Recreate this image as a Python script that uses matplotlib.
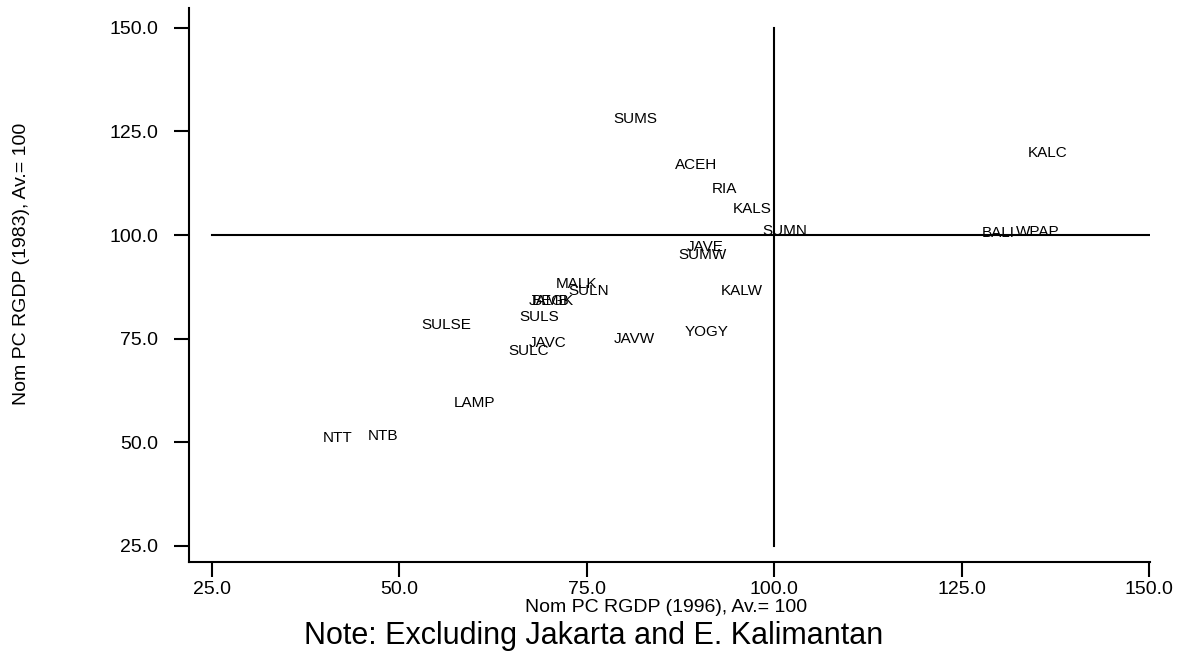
import matplotlib
matplotlib.use("Agg")
import matplotlib.pyplot as plt
from matplotlib.ticker import FormatStrFormatter

plt.rcParams["font.family"] = ["Liberation Sans", "DejaVu Sans"]

# relative nominal per-capita regional GDP, national average = 100
provinces = ["SUMS", "ACEH", "RIA", "KALS", "SUMN", "KALC", "BALI", "WPAP",
             "JAVE", "SUMW", "KALW", "MALK", "SULN", "JAMB", "BEGK", "SULS",
             "SULSE", "JAVC", "SULC", "JAVW", "YOGY", "LAMP", "NTT", "NTB"]
rgdp_1996 = [81.4, 89.6, 93.4, 97.0, 101.4, 136.5, 129.9, 135.1,
             90.8, 90.4, 95.7, 73.6, 75.3, 70.0, 70.5, 68.6,
             56.3, 69.8, 67.2, 81.3, 91.0, 60.0, 41.7, 47.8]
rgdp_1983 = [127.9, 116.9, 111.2, 106.4, 101.1, 119.8, 100.4, 100.8,
             97.1, 95.2, 86.5, 88.3, 86.5, 84.2, 84.2, 80.3,
             78.4, 73.9, 72.0, 74.8, 76.6, 59.5, 51.0, 51.5]
ticks = [25, 50, 75, 100, 125, 150]

W, H = 1178, 658
fig = plt.figure(figsize=(W / 100, H / 100), dpi=100)
ax = fig.add_axes([189 / W, 1 - 562 / H, (1150 - 189) / W, (562 - 8) / H])

# average lines splitting the plane into quadrants
ax.plot([25, 150], [100, 100], color="black", lw=1.5)
ax.plot([100, 100], [25, 150], color="black", lw=1.5)

for name, x, y in zip(provinces, rgdp_1996, rgdp_1983):
    ax.text(x, y, name, ha="center", va="center", fontsize=11)

ax.set_xlim(21.93, 150.1)
ax.set_ylim(21.1, 154.8)
ax.set_xticks(ticks)
ax.set_yticks(ticks)
ax.xaxis.set_major_formatter(FormatStrFormatter("%.1f"))
ax.yaxis.set_major_formatter(FormatStrFormatter("%.1f"))
ax.tick_params(direction="out", length=11, width=1.5, labelsize=14)
ax.tick_params(axis="x", pad=3)
ax.tick_params(axis="y", pad=11)
for side in ("top", "right"):
    ax.spines[side].set_visible(False)
for side in ("left", "bottom"):
    ax.spines[side].set_linewidth(1.5)

fig.text(666 / W, 1 - 608 / H, "Nom PC RGDP (1996), Av.= 100",
         ha="center", va="center", fontsize=14)
fig.text(22 / W, 1 - 264 / H, "Nom PC RGDP (1983), Av.= 100",
         ha="center", va="center", rotation=90, fontsize=14)
fig.text(594 / W, 1 - 636 / H, "Note: Excluding Jakarta and E. Kalimantan",
         ha="center", va="center", fontsize=22)

fig.savefig("out.png", dpi=100)
